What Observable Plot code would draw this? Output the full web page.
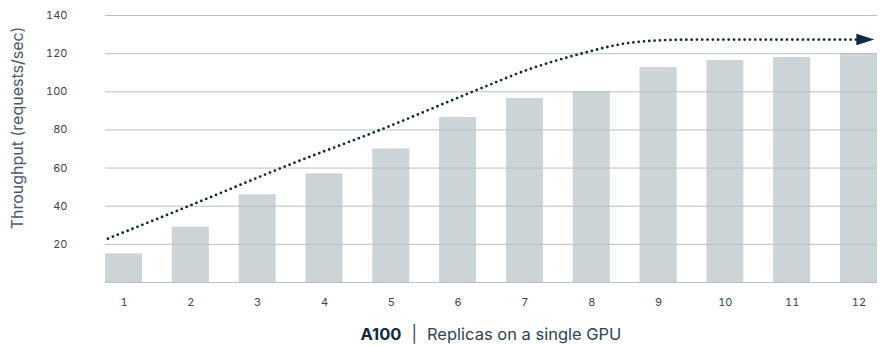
<!DOCTYPE html>
<html>
<head>
<meta charset="utf-8">
<script src="https://cdn.jsdelivr.net/npm/d3@7"></script>
<script src="https://cdn.jsdelivr.net/npm/@observablehq/plot@0.6"></script>
<style>
  html, body { margin: 0; padding: 0; background: #fff; }
  svg { display: block; }
</style>
</head>
<body>
<div id="chart"></div>
<script>
// Bars: throughput per replica count
const replicas = [1, 2, 3, 4, 5, 6, 7, 8, 9, 10, 11, 12];
const throughput = [15, 29, 46, 57, 70, 86.5, 96.5, 100, 112.7, 116.4, 118, 120];

// Dotted trend line (replica position, throughput)
const trendX = [0.76, 2.0, 3.55, 4.84, 6.23, 7.08, 7.83, 8.58, 9.33, 9.93, 11.96];
const trendY = [23, 40.5, 62.8, 80.1, 100.2, 112, 119.9, 125.7, 127.3, 127.4, 127.4];

// Axis ticks
const yTicks = [20, 40, 60, 80, 100, 120, 140];
const gridTicks = [0, 20, 40, 60, 80, 100, 120, 140];

const yLabel = "Throughput (requests/sec)";
const xLabelBold = "A100";
const xLabelRest = "Replicas on a single GPU";

const bars = replicas.map((r, i) => ({ r, v: throughput[i] }));
const trend = trendX.map((x, i) => ({ x, y: trendY[i] }));
const last = [trend[trend.length - 1]];

const halfBar = 0.277;
const navy = "#0f2a40";

const arrowHead = {
  draw(ctx) {
    ctx.moveTo(18, 0);
    ctx.lineTo(0, -5.8);
    ctx.lineTo(0, 5.8);
    ctx.closePath();
  }
};

const plot = Plot.plot({
  width: 880,
  height: 345,
  marginLeft: 105,
  marginRight: 3,
  marginTop: 15,
  marginBottom: 63,
  style: { fontFamily: "Inter, 'Open Sans', sans-serif", background: "#fff" },
  x: { type: "linear", domain: [1 - halfBar, 12 + halfBar] },
  y: { domain: [0, 140] },
  marks: [
    Plot.rectY(bars, { x1: d => d.r - halfBar, x2: d => d.r + halfBar, y: "v", fill: "#cdd4d7" }),
    Plot.gridY(gridTicks, { stroke: "#b8c0c6", strokeOpacity: 1, strokeWidth: 1 }),
    Plot.axisY(yTicks, { tickSize: 0, tickPadding: 38, fontSize: 11, fill: "#3a4654", label: null }),
    Plot.axisX(replicas, { tickSize: 0, tickPadding: 16, fontSize: 11, fill: "#3a4654", label: null, tickFormat: d => String(d) }),
    Plot.line(trend, {
      x: "x", y: "y", curve: "monotone-x",
      stroke: navy, strokeWidth: 2.8, strokeDasharray: "0,5.3", strokeLinecap: "round"
    }),
    Plot.dot(last, { x: "x", y: "y", symbol: arrowHead, fill: navy, stroke: "none" })
  ]
});

document.getElementById("chart").appendChild(plot);

// Axis titles
const svg = d3.select(plot);
const xr = plot.scale("x").range;
const cx = (xr[0] + xr[1]) / 2;

svg.append("text")
  .attr("transform", "translate(23,128) rotate(-90)")
  .attr("text-anchor", "middle")
  .attr("font-size", 16)
  .attr("fill", "#4b5a67")
  .text(yLabel);

const cap = svg.append("text")
  .attr("x", cx)
  .attr("y", 340)
  .attr("text-anchor", "middle")
  .attr("font-size", 16.5)
  .attr("fill", "#2e4457");
cap.append("tspan").attr("font-weight", 700).attr("fill", "#13293d").text(xLabelBold);
cap.append("tspan").attr("dx", 10).text("|");
cap.append("tspan").attr("dx", 10).text(xLabelRest);
</script>
</body>
</html>
